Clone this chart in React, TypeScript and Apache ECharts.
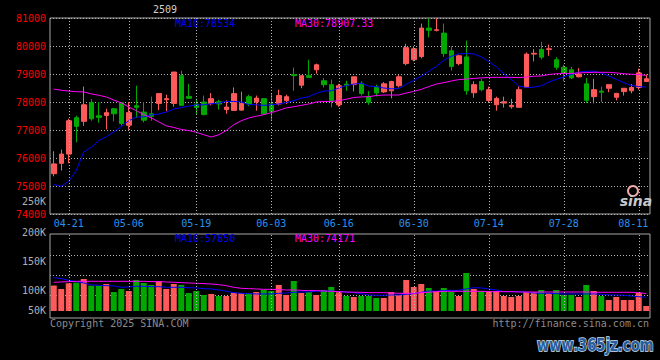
import React, { useEffect, useRef } from 'react';
import * as echarts from 'echarts';

const dates = [
  '04-17', '04-18', '04-21', '04-22', '04-23', '04-24', '04-25', '04-28', '04-29', '04-30',
  '05-06', '05-07', '05-08', '05-09', '05-12', '05-13', '05-14', '05-15', '05-16',
  '05-19', '05-20', '05-21', '05-22', '05-23', '05-26', '05-27', '05-28', '05-29', '05-30',
  '06-03', '06-04', '06-05', '06-06', '06-09', '06-10', '06-11', '06-12', '06-13',
  '06-16', '06-17', '06-18', '06-19', '06-20', '06-23', '06-24', '06-25', '06-26', '06-27',
  '06-30', '07-01', '07-02', '07-03', '07-04', '07-07', '07-08', '07-09', '07-10', '07-11',
  '07-14', '07-15', '07-16', '07-17', '07-18', '07-21', '07-22', '07-23', '07-24', '07-25',
  '07-28', '07-29', '07-30', '07-31', '08-01', '08-04', '08-05', '08-06', '08-07', '08-08',
  '08-11', '08-12',
];

const tickDates = ['04-21', '05-06', '05-19', '06-03', '06-16', '06-30', '07-14', '07-28', '08-11'];

const opens = [
  75440, 75810, 76140, 77440, 77310, 77980, 77510, 77520, 77760, 77980,
  77170, 77870, 77640, 77580, 77950, 78080, 77950, 78940, 78200, 77920,
  78000, 77940, 78010, 77730, 77700, 77710, 78190, 78000, 78120, 77930,
  77930, 78050, 78980, 78600, 78940, 79150, 78760, 78620, 77900, 78640,
  78620, 78670, 78190, 78540, 78360, 78400, 78580, 79370, 79510, 79620,
  80640, 80560, 80460, 79830, 79370, 79610, 78330, 78730, 78050, 77900,
  77960, 77830, 77810, 78520, 79710, 79880, 79880, 79510, 79240, 79150,
  78900, 78650, 78190, 78390, 78490, 78170, 78370, 78400, 78520, 78730,
];
const closes = [
  75790, 76140, 77330, 77130, 77900, 77400, 77450, 77620, 77580, 77230,
  77620, 77810, 77350, 77490, 78300, 78120, 79070, 77880, 78130, 77800,
  77550, 78120, 77930, 77820, 78300, 77950, 77930, 78140, 77580, 77670,
  78230, 78190, 78940, 78940, 78880, 79330, 78620, 78050, 78580, 78600,
  78900, 78300, 77990, 78320, 78650, 78730, 78900, 79940, 79900, 80640,
  80560, 80580, 79730, 79270, 79650, 78400, 78620, 78440, 78440, 78130,
  78010, 77880, 78440, 79710, 79740, 79600, 79900, 79240, 79040, 78860,
  79000, 78060, 78440, 78350, 78620, 78310, 78490, 78520, 79040, 78830,
];
const lows = [
  75345, 75550, 75810, 76560, 77150, 77330, 77260, 77020, 77310, 77150,
  77010, 77430, 77270, 77330, 77710, 77670, 77830, 77880, 78120, 77570,
  77520, 77880, 77730, 77580, 77700, 77680, 77850, 77690, 77550, 77350,
  77880, 77930, 78400, 78490, 78880, 79010, 78520, 77810, 77830, 78400,
  78380, 78230, 77900, 78200, 78320, 78130, 78520, 79310, 79450, 79560,
  80310, 80520, 79610, 79120, 79310, 78260, 78150, 78380, 78000, 77690,
  77800, 77760, 77810, 78500, 79450, 79520, 79650, 79150, 78740, 78820,
  78880, 77960, 77950, 78000, 78350, 78060, 78230, 78310, 78440, 78730,
];
const highs = [
  76240, 76300, 77400, 77510, 78550, 78100, 78000, 77760, 77790, 78000,
  78000, 78580, 78000, 78190, 78300, 78260, 79070, 79120, 78650, 78120,
  78230, 78320, 78080, 78060, 78520, 78370, 78260, 78230, 78130, 78290,
  78440, 78260, 79230, 78940, 79510, 79370, 78860, 78800, 78650, 78760,
  78900, 78740, 78390, 78620, 78710, 78760, 78960, 80080, 80000, 80800,
  80990, 80990, 80800, 79990, 79690, 80190, 78740, 78820, 78550, 78190,
  78190, 78110, 78560, 79770, 79890, 80150, 80050, 79600, 79330, 79250,
  79210, 78860, 78830, 78550, 78620, 78310, 78490, 78640, 79190, 78980,
];

const priceMa10 = [
  75050, 74990, 75170, 75550, 76220, 76380, 76620, 76760, 76930, 77130,
  77330, 77460, 77470, 77540, 77570, 77640, 77750, 77800, 77850, 77900,
  77900, 77940, 77960, 78020, 78020, 78000, 77910, 77900, 77880, 77900,
  77930, 77980, 78050, 78140, 78190, 78310, 78390, 78400, 78500, 78590,
  78640, 78670, 78570, 78550, 78500, 78470, 78480, 78640, 78770, 78920,
  79100, 79270, 79490, 79630, 79720, 79730, 79720, 79610, 79440, 79260,
  79010, 78800, 78570, 78520, 78530, 78580, 78710, 78810, 78900, 78980,
  79070, 79100, 79100, 79040, 78930, 78810, 78690, 78590, 78550, 78530,
];
const priceMa30 = [
  78460, 78420, 78390, 78370, 78360, 78290, 78240, 78180, 78070, 77970,
  77820, 77690, 77550, 77430, 77290, 77150, 77090, 77020, 76980, 76920,
  76830, 76750, 76830, 76980, 77190, 77330, 77430, 77490, 77550, 77620,
  77700, 77790, 77830, 77880, 77930, 78000, 78020, 78020, 78050, 78100,
  78160, 78180, 78190, 78230, 78250, 78250, 78250, 78320, 78380, 78450,
  78550, 78640, 78690, 78750, 78800, 78820, 78840, 78860, 78880, 78880,
  78880, 78880, 78870, 78890, 78920, 78930, 78980, 79010, 79020, 79020,
  79040, 79050, 79060, 79060, 79060, 79040, 79010, 78990, 78980, 78950,
];

const volumes = [
  108000, 102200, 111800, 112900, 119100, 107800, 107800, 110600, 97100, 102200,
  98800, 117400, 112300, 109000, 115700, 102200, 110600, 109000, 95400, 98800,
  92100, 93800, 90400, 90400, 95900, 95400, 95400, 97100, 100500, 98800,
  109000, 92100, 115700, 95400, 97100, 92100, 100500, 105600, 96600, 90400,
  88700, 90400, 90400, 87000, 87000, 97100, 92100, 117400, 105600, 110600,
  103900, 98800, 103900, 97100, 90400, 129200, 102200, 98800, 98800, 98800,
  90400, 88700, 90400, 97100, 97100, 100500, 95400, 100500, 92100, 92100,
  88700, 109000, 98800, 90400, 83600, 88700, 83600, 83600, 95400, 73500,
];
const volMa10 = [
  121300, 119700, 116800, 114600, 112300, 109000, 108400, 107800, 107300, 105000,
  105600, 106700, 106700, 106100, 106100, 105000, 105000, 105000, 104400, 103900,
  102800, 102200, 100500, 98300, 96000, 94900, 94300, 93800, 93800, 93800,
  94900, 95400, 96600, 97100, 97100, 98300, 98800, 98800, 97700, 97100,
  96000, 94300, 92100, 91500, 91500, 92100, 92100, 93200, 94300, 96600,
  98800, 98300, 99400, 99900, 99900, 102200, 104400, 103900, 102200, 100500,
  97700, 97700, 97700, 97100, 95400, 94900, 94900, 94300, 93800, 93800,
  93800, 93800, 93800, 93200, 92100, 92100, 91500, 90400, 89200, 88100,
];
const volMa30 = [
  113500, 114000, 114600, 115100, 115100, 115100, 115100, 115100, 115100, 115100,
  115100, 115100, 115100, 114600, 114600, 114000, 113500, 112900, 112300, 111800,
  111200, 110600, 109500, 107800, 105000, 103300, 102800, 102200, 101600, 101600,
  101100, 100500, 100500, 99900, 99400, 99400, 98800, 98300, 97700, 97100,
  96600, 96600, 96000, 96000, 96000, 95400, 94900, 94900, 94900, 96000,
  96600, 97700, 98300, 98300, 98300, 98300, 98300, 98300, 97700, 97700,
  97700, 97700, 97100, 97100, 97100, 97100, 97100, 97100, 97100, 97100,
  97100, 97100, 96600, 96600, 96600, 96600, 96600, 96600, 96000, 94300,
];

const volTickLabels = ['250K', '200K', '150K', '100K', '50K'];
const contractName = '2509';
const priceMa10Text = 'MA10:78534';
const priceMa30Text = 'MA30:78907.33';
const volMa10Text = 'MA10:57850';
const volMa30Text = 'MA30:74171';
const copyrightText = 'Copyright 2025 SINA.COM';
const urlText = 'http://finance.sina.com.cn';
const watermarkText = 'www.365jz.com';

const RED = '#ff5a5a';
const GREEN = '#00a800';
const BLUE = '#0000ff';
const MAGENTA = '#ff00ff';
const GRIDC = '#b4b4b4';
const MONO = 'DejaVu Sans Mono';

export default function App() {
  const ref = useRef<HTMLDivElement>(null);

  useEffect(() => {
    const chart = echarts.init(ref.current as HTMLDivElement, null, { renderer: 'svg' });
    const lastTick = tickDates[tickDates.length - 1];
    const volLabelY = [201, 232, 261, 290, 310];

    const txt = (text: string, x: number, y: number, fill: string, align = 'left', extra: any = {}) => ({
      type: 'text',
      z: 20,
      silent: true,
      style: {
        text,
        x,
        y,
        fill,
        align,
        verticalAlign: 'middle',
        fontFamily: MONO,
        fontSize: 10,
        ...extra,
      },
    });

    const option: any = {
      animation: false,
      backgroundColor: '#000000',
      grid: [
        { left: 50, top: 18, width: 600, height: 196, show: true, borderColor: '#a8a8a8', borderWidth: 1, backgroundColor: 'transparent' },
        { left: 50, top: 234, width: 600, height: 77, show: false },
      ],
      xAxis: [
        {
          type: 'category',
          gridIndex: 0,
          data: dates,
          boundaryGap: true,
          axisLine: { show: false },
          axisTick: { show: false },
          splitLine: { show: false },
          axisLabel: {
            color: '#2a90ee',
            fontFamily: MONO,
            fontSize: 10,
            margin: 4,
            interval: (i: number, v: string) => tickDates.includes(v),
            formatter: (v: string) => (v === lastTick ? `{e|${v}}` : v),
            rich: { e: { color: '#2a90ee', fontFamily: MONO, fontSize: 10, padding: [0, 11, 0, 0] } },
          },
        },
        {
          type: 'category',
          gridIndex: 1,
          data: dates,
          boundaryGap: true,
          axisLine: { show: false },
          axisTick: { show: false },
          axisLabel: { show: false },
          splitLine: { show: false },
        },
      ],
      yAxis: [
        {
          type: 'value',
          gridIndex: 0,
          min: 74000,
          max: 81000,
          interval: 1000,
          axisLine: { show: false },
          axisTick: { show: false },
          axisLabel: { color: '#ff0000', fontFamily: MONO, fontSize: 10, margin: 4, formatter: (v: number) => String(v) },
          splitLine: { show: true, lineStyle: { color: GRIDC, type: [1, 2], width: 1 } },
        },
        {
          type: 'value',
          gridIndex: 1,
          min: 65000,
          max: 195000,
          show: false,
          splitLine: { show: false },
        },
      ],
      series: [
        {
          type: 'line',
          name: 'vgrid',
          xAxisIndex: 0,
          yAxisIndex: 0,
          data: [],
          z: 1,
          silent: true,
          markLine: {
            silent: true,
            symbol: ['none', 'none'],
            label: { show: false },
            lineStyle: { color: GRIDC, type: [1, 2], width: 1 },
            data: tickDates.map((d) => ({ xAxis: d })),
          },
        },
        {
          type: 'line',
          name: 'vgrid2',
          xAxisIndex: 1,
          yAxisIndex: 1,
          data: [],
          z: 1,
          silent: true,
          markLine: {
            silent: true,
            symbol: ['none', 'none'],
            label: { show: false },
            lineStyle: { color: GRIDC, type: [1, 2], width: 1 },
            data: tickDates.map((d) => ({ xAxis: d })),
          },
        },
        {
          type: 'candlestick',
          name: 'K',
          xAxisIndex: 0,
          yAxisIndex: 0,
          z: 2,
          barWidth: 5,
          data: dates.map((_, i) => [opens[i], closes[i], lows[i], highs[i]]),
          itemStyle: { color: RED, color0: GREEN, borderColor: RED, borderColor0: GREEN, borderWidth: 1 },
        },
        {
          type: 'line',
          name: 'MA10',
          xAxisIndex: 0,
          yAxisIndex: 0,
          z: 4,
          data: priceMa10,
          showSymbol: false,
          symbol: 'none',
          lineStyle: { color: BLUE, width: 1 },
        },
        {
          type: 'line',
          name: 'MA30',
          xAxisIndex: 0,
          yAxisIndex: 0,
          z: 4,
          data: priceMa30,
          showSymbol: false,
          symbol: 'none',
          lineStyle: { color: MAGENTA, width: 1 },
        },
        {
          type: 'bar',
          name: 'VOL',
          xAxisIndex: 1,
          yAxisIndex: 1,
          z: 2,
          barWidth: 6,
          data: volumes,
          itemStyle: {
            color: (p: any) => (closes[p.dataIndex] >= opens[p.dataIndex] ? RED : GREEN),
          },
        },
        {
          type: 'line',
          name: 'VMA10',
          xAxisIndex: 1,
          yAxisIndex: 1,
          z: 4,
          data: volMa10,
          showSymbol: false,
          symbol: 'none',
          lineStyle: { color: BLUE, width: 1 },
        },
        {
          type: 'line',
          name: 'VMA30',
          xAxisIndex: 1,
          yAxisIndex: 1,
          z: 4,
          data: volMa30,
          showSymbol: false,
          symbol: 'none',
          lineStyle: { color: MAGENTA, width: 1 },
        },
      ],
      graphic: [
        {
          type: 'rect',
          z: 0,
          silent: true,
          shape: { x: 50, y: 234, width: 600, height: 84 },
          style: { fill: 'none', stroke: '#a8a8a8', lineWidth: 1 },
        },
        ...[255.5, 275.5, 295.5].map((y) => ({
          type: 'line',
          z: 0,
          silent: true,
          shape: { x1: 50, y1: y, x2: 650, y2: y },
          style: { stroke: GRIDC, lineWidth: 1, lineDash: [1, 2] },
        })),
        txt(contractName, 153, 9.5, '#d0d0d0'),
        txt(priceMa10Text, 175, 23.5, BLUE),
        txt(priceMa30Text, 295, 23.5, MAGENTA),
        ...volTickLabels.map((t, i) => txt(t, 46, volLabelY[i], '#b0b0b0', 'right')),
        txt(volMa10Text, 175, 238, BLUE),
        txt(volMa30Text, 295, 238, MAGENTA),
        txt(copyrightText, 50, 323.5, '#8c8c8c'),
        txt(urlText, 649, 323.5, '#8c8c8c', 'right'),
        {
          type: 'ring',
          z: 20,
          silent: true,
          shape: { cx: 633, cy: 191, r: 6, r0: 4 },
          style: { fill: '#f0a8a8' },
        },
        txt('sina', 636, 201, '#c8c8c8', 'center', { fontFamily: 'DejaVu Sans', fontSize: 14, fontWeight: 'bold', fontStyle: 'italic' }),
        {
          type: 'text',
          z: 20,
          silent: true,
          x: 537,
          y: 345,
          scaleX: 0.78,
          style: {
            text: watermarkText,
            x: 0,
            y: 0,
            fill: '#2b5c9a',
            stroke: '#d0e0f2',
            lineWidth: 1.5,
            align: 'left',
            verticalAlign: 'middle',
            fontFamily: 'DejaVu Sans',
            fontSize: 17,
            fontWeight: 'bold',
          },
        },
      ],
    };

    chart.setOption(option);
    return () => chart.dispose();
  }, []);

  return (
    <div
      ref={ref}
      style={{ width: 660, height: 360, position: 'absolute', left: 0, top: 0, background: '#000' }}
    />
  );
}
